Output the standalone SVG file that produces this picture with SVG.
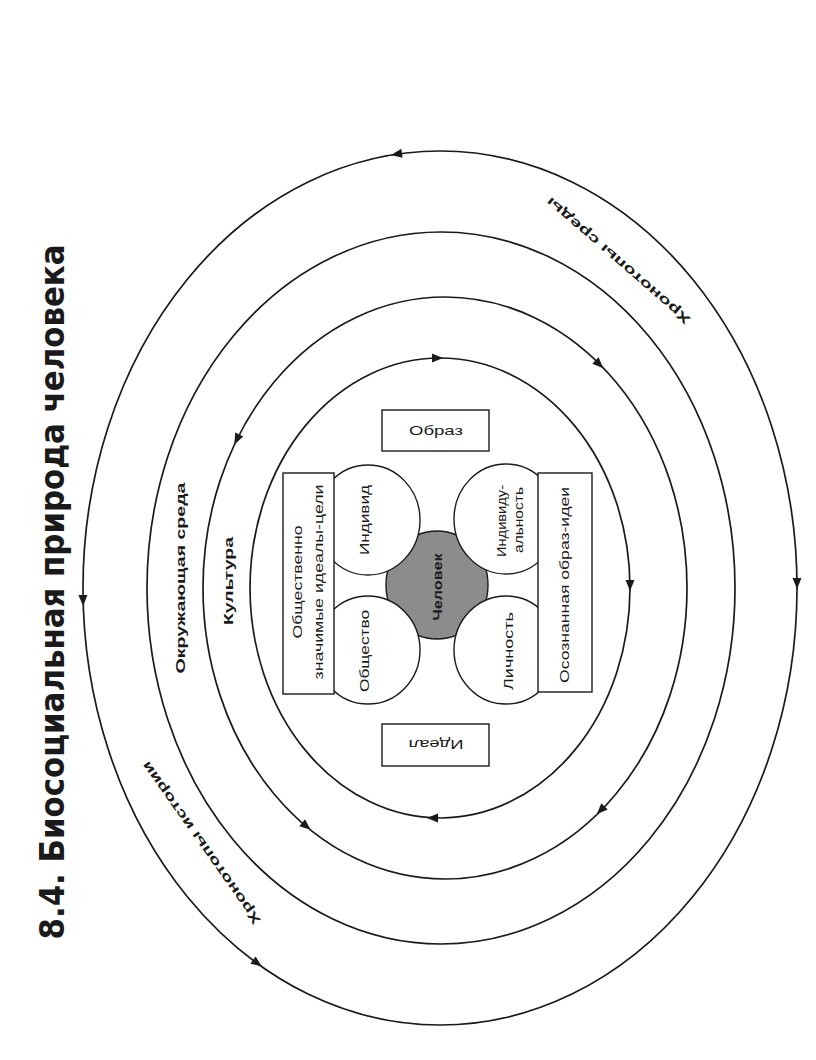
<svg xmlns="http://www.w3.org/2000/svg" width="816" height="1060" viewBox="0 0 816 1060">
<style>
.ring{fill:none;stroke:#1a1a1a;stroke-width:1.7}
.box{fill:#fff;stroke:#1a1a1a;stroke-width:1.4}
.circ{fill:#fff;stroke:#1a1a1a;stroke-width:1.4}
.core{fill:#8c8c8c;stroke:#1a1a1a;stroke-width:1.4}
.t{font-family:"Liberation Sans",Arial,sans-serif;fill:#1a1a1a;font-size:13px;text-anchor:middle}
.b{font-weight:bold}
.ttl{font-family:"Liberation Sans Narrow","DejaVu Sans Condensed","Liberation Sans",sans-serif;font-weight:bold;font-size:33px;fill:#1a1a1a;text-anchor:middle}
.ah{fill:#1a1a1a}
</style>
<defs>
<path id="ah" d="M6,0 L-5,-4.5 L-5,4.5 Z"/>
</defs>
<rect width="816" height="1060" fill="#fff"/>

<g id="title">
<text class="ttl" transform="translate(64,592) rotate(-90)" textLength="695" lengthAdjust="spacingAndGlyphs">8.4. Биосоциальная природа человека</text>
</g>

<g id="connectors">
<ellipse class="ring" cx="440" cy="588" rx="357" ry="437"/>
<ellipse class="ring" cx="441" cy="588" rx="294" ry="356"/>
<ellipse class="ring" cx="445" cy="588" rx="242" ry="291"/>
<ellipse class="ring" cx="440" cy="588" rx="190" ry="230"/>
<use href="#ah" class="ah" transform="translate(397,154) rotate(171.6)"/>
<use href="#ah" class="ah" transform="translate(83,600) rotate(88.7)"/>
<use href="#ah" class="ah" transform="translate(797,583) rotate(89.5)"/>
<use href="#ah" class="ah" transform="translate(257,963) rotate(36.2)"/>
<use href="#ah" class="ah" transform="translate(599,364) rotate(44.8)"/>
<use href="#ah" class="ah" transform="translate(237,439) rotate(116.3)"/>
<use href="#ah" class="ah" transform="translate(601,810) rotate(134.6)"/>
<use href="#ah" class="ah" transform="translate(306,826) rotate(40.1)"/>
<use href="#ah" class="ah" transform="translate(437,358) rotate(-1)"/>
<use href="#ah" class="ah" transform="translate(630,585) rotate(90)"/>
<use href="#ah" class="ah" transform="translate(433,818) rotate(180)"/>
</g>

<g id="ring-labels">
<text class="t b" font-size="14" transform="translate(618,261) rotate(221)" dy="0.35em" textLength="186" lengthAdjust="spacingAndGlyphs">Хронотопы среды</text>
<text class="t b" font-size="14" transform="translate(201,843) rotate(234.8)" dy="0.35em" textLength="196" lengthAdjust="spacingAndGlyphs">Хронотопы истории</text>
<text class="t b" font-size="14" transform="translate(180,578) rotate(-90)" dy="0.35em" textLength="191" lengthAdjust="spacingAndGlyphs">Окружающая среда</text>
<text class="t b" font-size="15" transform="translate(228,581) rotate(-90)" dy="0.35em" textLength="88" lengthAdjust="spacingAndGlyphs">Культура</text>
</g>

<g id="chelovek">
<ellipse class="core" cx="437" cy="585" rx="51" ry="54"/>
</g>

<g id="individ">
<ellipse class="circ" cx="368" cy="520" rx="52" ry="55"/>
<text class="t" transform="translate(364,520) rotate(-90)" dy="0.35em" textLength="70" lengthAdjust="spacingAndGlyphs">Индивид</text>
</g>
<g id="obshchestvo">
<ellipse class="circ" cx="368" cy="650" rx="52" ry="54"/>
<text class="t" transform="translate(364,651) rotate(-90)" dy="0.35em" textLength="82" lengthAdjust="spacingAndGlyphs">Общество</text>
</g>
<g id="individualnost">
<ellipse class="circ" cx="506" cy="519" rx="52" ry="55"/>
<text class="t" transform="translate(501,521) rotate(-90)" dy="0.35em" textLength="72" lengthAdjust="spacingAndGlyphs">Индивиду-</text>
<text class="t" transform="translate(518,520) rotate(-90)" dy="0.35em" textLength="66" lengthAdjust="spacingAndGlyphs">альность</text>
</g>
<g id="lichnost">
<ellipse class="circ" cx="506" cy="650" rx="52" ry="54"/>
<text class="t" transform="translate(508,651) rotate(-90)" dy="0.35em" textLength="78" lengthAdjust="spacingAndGlyphs">Личность</text>
</g>

<g id="chelovek-label">
<text class="t b" transform="translate(437,587) rotate(-90)" dy="0.35em" textLength="67" lengthAdjust="spacingAndGlyphs">Человек</text>
</g>

<g id="ideals-goals">
<rect class="box" x="283" y="473" width="51" height="221"/>
<text class="t" transform="translate(297,582) rotate(-90)" dy="0.35em" textLength="113" lengthAdjust="spacingAndGlyphs">Общественно</text>
<text class="t" transform="translate(318,582) rotate(-90)" dy="0.35em" textLength="195" lengthAdjust="spacingAndGlyphs">значимые идеалы-цели</text>
</g>

<g id="images-ideas">
<rect class="box" x="538" y="473" width="54" height="219"/>
<text class="t" transform="translate(564,585) rotate(-90)" dy="0.35em" textLength="196" lengthAdjust="spacingAndGlyphs">Осознанная образ-идеи</text>
</g>

<g id="obraz">
<rect class="box" x="382" y="410" width="107" height="41"/>
<text class="t" x="436" y="435" font-size="14" textLength="54" lengthAdjust="spacingAndGlyphs">Образ</text>
</g>

<g id="ideal">
<rect class="box" x="382" y="724" width="107" height="42"/>
<text class="t" font-size="14" transform="translate(436,745) rotate(180)" dy="0.35em" textLength="55" lengthAdjust="spacingAndGlyphs">Идеал</text>
</g>
</svg>
